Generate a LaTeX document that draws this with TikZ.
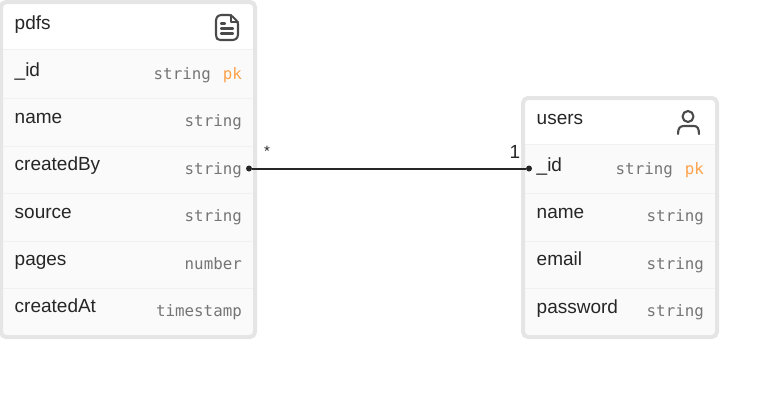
\documentclass[tikz,border=0pt]{standalone}
\usepackage{fontspec}
\setmainfont{Liberation Sans}
\setmonofont{DejaVu Sans Mono}
\definecolor{frameC}{HTML}{E5E5E5}
\definecolor{rowC}{HTML}{FAFAFA}
\definecolor{sepC}{HTML}{F1F1F1}
\definecolor{typeC}{HTML}{757575}
\definecolor{pkC}{HTML}{FFA24A}
\definecolor{inkC}{HTML}{262626}
\definecolor{iconC}{HTML}{4A4A4A}
\tikzset{
  x=1pt,y=-1pt,
  frame/.style={draw=frameC,line width=4pt,rounded corners=5pt},
  sepline/.style={draw=sepC,line width=1pt},
  fname/.style={anchor=base west,inner sep=0pt,text=inkC,font=\fontsize{19}{21}\selectfont},
  ftype/.style={anchor=base east,inner sep=0pt,text=typeC,font=\ttfamily\fontsize{15.8}{18}\selectfont},
  fpk/.style={anchor=base east,inner sep=0pt,text=pkC,font=\ttfamily\fontsize{15.8}{18}\selectfont},
  portdot/.style={circle,fill=inkC,draw=none,inner sep=0pt,minimum size=6pt},
  card/.style={inner sep=0pt,text=inkC},
  link/.style={draw=inkC,line width=2pt},
  icon/.style={draw=iconC,line width=2.1pt,line cap=round,line join=round}
}
\begin{document}
\begin{tikzpicture}
\useasboundingbox (0,0) rectangle (757,407);
% pdfs table
\fill[rowC,rounded corners=5pt] (1,1) rectangle (255,337);
\fill[white,rounded corners=5pt] (1,1) rectangle (255,20);
\fill[white] (1,10) rectangle (255,49);
\foreach \yy in {49,98,146,193,241,288} \draw[sepline] (3,\yy) -- (253,\yy);
\draw[frame] (1,2) rectangle (255,337);
\node[fname] (ph) at (14.5,29) {pdfs};
\node[fname] (p1) at (14.5,76) {\_id};
\node[fname] (p2) at (14.5,123) {name};
\node[fname] (p3) at (14.5,170) {createdBy};
\node[fname] (p4) at (14.5,218) {source};
\node[fname] (p5) at (14.5,265) {pages};
\node[fname] (p6) at (14.5,312) {createdAt};
\node[fpk] (p1k) at (242,79) {pk};
\node[ftype] (p1t) at (211,79) {string};
\node[ftype] (p2t) at (242,126) {string};
\node[ftype] (p3t) at (242,174) {string};
\node[ftype] (p4t) at (242,221) {string};
\node[ftype] (p5t) at (242,269) {number};
\node[ftype] (p6t) at (242,316) {timestamp};
% pdf icon
\draw[icon,rounded corners=2.5pt] (231,15) -- (219,15) -- (216,18) -- (216,37) -- (218,40) -- (235,40) -- (238,37) -- (238,22) -- cycle;
\draw[icon] (231,15) -- (231,22) -- (238,22);
\draw[icon] (221,23.5) -- (225,23.5) (221,28.5) -- (233,28.5) (221,33.5) -- (233,33.5);
% users table
\fill[rowC,rounded corners=5pt] (523,98) rectangle (717,337);
\fill[white,rounded corners=5pt] (523,98) rectangle (717,120);
\fill[white] (523,108) rectangle (717,144);
\foreach \yy in {144,193,241,288} \draw[sepline] (525,\yy) -- (715,\yy);
\draw[frame] (523,98) rectangle (717,337);
\node[fname] (uh) at (536.5,124) {users};
\node[fname] (u1) at (536.5,171) {\_id};
\node[fname] (u2) at (536.5,218) {name};
\node[fname] (u3) at (536.5,265) {email};
\node[fname] (u4) at (536.5,313) {password};
\node[fpk] (u1k) at (704,174) {pk};
\node[ftype] (u1t) at (673,174) {string};
\node[ftype] (u2t) at (704,221) {string};
\node[ftype] (u3t) at (704,269) {string};
\node[ftype] (u4t) at (704,316) {string};
% user icon
\draw[icon] (688,116.5) circle (5.5);
\draw[icon] (678,134) .. controls (678,128) and (680,126) .. (684,126) -- (694,126) .. controls (697,126) and (699,128) .. (699,134);
% relation
\node[portdot] (pa) at (249,168.5) {};
\node[portdot] (pb) at (529,168.5) {};
\draw[link] (pa) -- (pb);
\node[card,font=\fontsize{15}{15}\selectfont] (star) at (267,151.5) {*};
\node[card,font=\fontsize{19}{21}\selectfont] (one) at (515,152) {1};
\end{tikzpicture}
\end{document}
